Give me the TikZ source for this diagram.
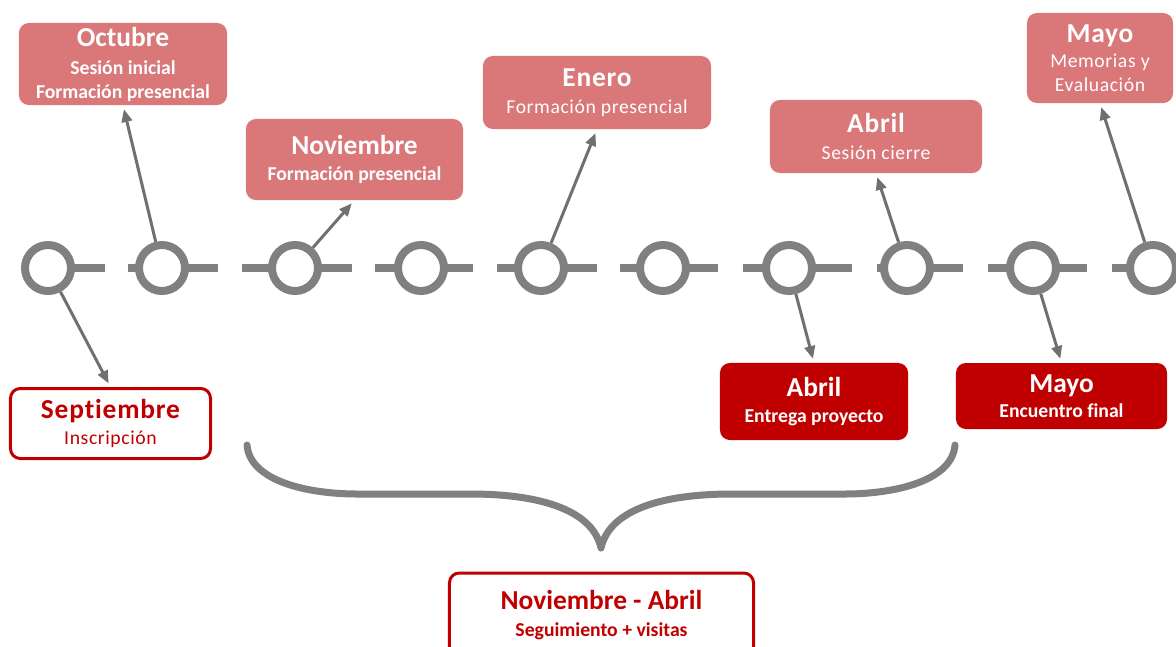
\documentclass[tikz,border=0pt]{standalone}
\usepackage{fontspec}
\setmainfont{Carlito}[Ligatures=NoCommon]
\usetikzlibrary{arrows.meta}

\definecolor{boxpink}{RGB}{217,119,121}
\definecolor{boxred}{RGB}{192,0,0}
\definecolor{linegray}{RGB}{128,128,128}
\definecolor{arrowgray}{RGB}{112,112,112}

\newcommand{\mes}[1]{{\fontsize{19.5}{22}\selectfont\bfseries #1}}

\begin{document}
\begin{tikzpicture}[x=0.025cm,y=-0.025cm]
            \tikzstyle{hito}=[rounded corners=7pt,inner sep=2pt,align=center,font=\fontsize{14}{17}\selectfont\addfontfeatures{LetterSpace=3}]
            \tikzstyle{negrita}=[font=\fontsize{14}{17}\selectfont\bfseries]
            \tikzstyle{arriba}=[hito,fill=boxpink,text=white]
            \tikzstyle{abajo}=[hito,negrita,fill=boxred,text=white]
            \tikzstyle{marco}=[hito,draw=boxred,line width=0.075cm,fill=white,text=boxred]
            \tikzstyle{punto}=[circle,draw=linegray,line width=0.2cm,fill=white,minimum size=1.15cm,inner sep=0pt]
            \tikzstyle{tramo}=[draw=linegray,line width=0.2cm]
            \tikzstyle{enlace}=[-{Triangle[length=0.32cm,width=0.26cm]},draw=arrowgray,line width=0.075cm,shorten >=0.1cm]

            \useasboundingbox (0,0) rectangle (1176,646);
            \clip (0,0) rectangle (1176,646);

            % linea de tiempo
            \foreach \x/\l/\r [count=\i] in {48/48/105,162/128/218,295/242/352,421/375/473,541/497/597,663/620/718,789/743/852,907/877/963,1033/988/1087,1153/1112/1210}{
              \draw[tramo] (\l,268) -- (\r,268);
              \node (c\i) at (\x,268) [punto] {};
            }

            % hitos de arriba
            \node (oct) at (123,64) [arriba,negrita,minimum width=5.2cm,minimum height=2.05cm] {\mes{Octubre}\\[3pt]Sesión inicial\\Formación presencial};
            \node (nov) at (354.5,159.5) [arriba,negrita,minimum width=5.425cm,minimum height=2.025cm] {\mes{Noviembre}\\[2pt]Formación presencial};
            \node (ene) at (597,92.5) [arriba,minimum width=5.7cm,minimum height=1.825cm] {\mes{Enero}\\[2pt]Formación presencial};
            \node (abrA) at (876,136.5) [arriba,minimum width=5.3cm,minimum height=1.825cm] {\mes{Abril}\\[2pt]Sesión cierre};
            \node (mayA) at (1100,58) [arriba,minimum width=3.65cm,minimum height=2.25cm] {\mes{Mayo}\\[1pt]Memorias y\\Evaluación};

            % hitos de abajo
            \node (sep) at (110.5,423.5) [marco,minimum width=5.0cm,minimum height=1.75cm] {\mes{Septiembre}\\[2pt]Inscripción};
            \node (abrB) at (814,401.5) [abajo,minimum width=4.7cm,minimum height=1.925cm] {\mes{Abril}\\[2pt]Entrega proyecto};
            \node (mayB) at (1061.5,396) [abajo,minimum width=5.275cm,minimum height=1.65cm] {\mes{Mayo}\\[1pt]Encuentro final};
            \node (seg) at (601.5,615) [marco,negrita,minimum width=7.6cm,minimum height=2.1cm] {\mes{Noviembre - Abril}\\[2pt]Seguimiento + visitas};

            \draw[enlace] (c1) to (sep.north);
            \draw[enlace] (c2) to (oct.south);
            \draw[enlace] (c3) to (nov.south);
            \draw[enlace] (c5) to (ene.south);
            \draw[enlace] (c7) to (abrB.north);
            \draw[enlace] (c8) to (abrA.south);
            \draw[enlace] (c9) to (mayB.north);
            \draw[enlace] (c10) to (mayA.south);

            % llave
            \draw[linegray,line width=0.175cm,line cap=round,line join=round] (247,445) .. controls (250,482) and (310,494) .. (357,494) -- (470,494) .. controls (545,494) and (593,512) .. (601,548) .. controls (609,512) and (657,494) .. (732,494) -- (845,494) .. controls (892,494) and (952,482) .. (955,445);
          \end{tikzpicture}
\end{document}
